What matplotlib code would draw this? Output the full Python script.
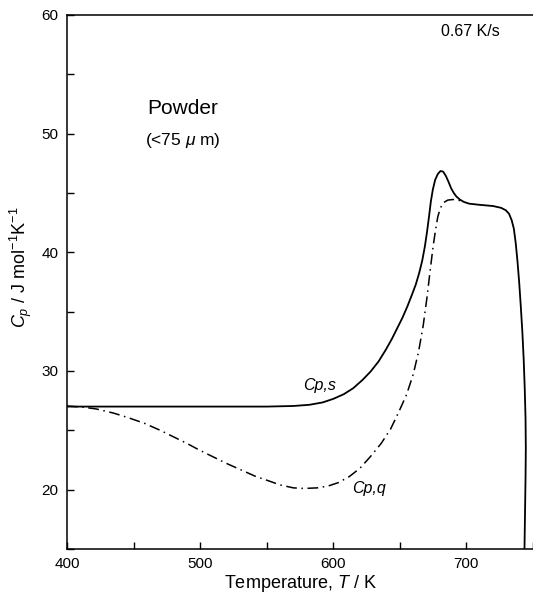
import matplotlib
matplotlib.use("Agg")
import matplotlib.pyplot as plt
from matplotlib.ticker import MultipleLocator

plt.rcParams['font.family'] = ['Liberation Sans', 'DejaVu Sans']
plt.rcParams['mathtext.fontset'] = 'custom'
plt.rcParams['mathtext.rm'] = 'Liberation Sans'
plt.rcParams['mathtext.it'] = 'Liberation Sans:italic'

# Cp,s (solid)
temp_s = [400, 450, 500, 550, 570, 582, 592, 600, 608, 615, 622, 628, 634, 639.5,
          644, 648, 652, 655.5, 659, 662, 664.5, 666.8, 668.8, 670.5, 672, 673.3, 674.8,
          676.5, 678.5, 680.5, 682.5, 684.5, 686.5, 688.5, 690.5, 692.5, 695, 698,
          702, 710, 720, 726, 729.5, 732, 734, 735.6, 737, 738.3, 739.6, 740.8, 742,
          743, 743.8, 744.4, 744.6, 744.4, 744, 743.6, 743.4]
cp_s = [27.0, 27.0, 27.0, 27.0, 27.05, 27.15, 27.35, 27.65, 28.05, 28.55, 29.25, 29.95, 30.8, 31.8,
        32.7, 33.6, 34.5, 35.4, 36.4, 37.3, 38.25, 39.3, 40.5, 41.8, 43.1, 44.3, 45.3,
        46.1, 46.6, 46.85, 46.8, 46.45, 45.95, 45.4, 45.0, 44.7, 44.45, 44.25,
        44.1, 44.0, 43.9, 43.75, 43.55, 43.25, 42.7, 42.0, 40.8, 39.3, 37.5, 35.5, 33.3,
        31.0, 28.5, 26.0, 23.5, 21.0, 18.0, 15.0, 14.0]

# Cp,q (dash-dot)
temp_q = [400, 412, 422, 435, 445, 458, 470, 480, 490, 500, 510, 520, 532, 542, 550,
          560, 570, 578, 588, 596, 604, 612, 620, 628, 636, 643, 649, 655, 660, 664,
          667.5, 670.5, 673, 675, 676.8, 678.5, 680.5, 683, 686, 690, 694, 698]
cp_q = [27.05, 26.95, 26.8, 26.45, 26.1, 25.6, 25.0, 24.45, 23.9, 23.3, 22.75, 22.2, 21.6, 21.1, 20.8,
        20.4, 20.15, 20.1, 20.15, 20.3, 20.6, 21.1, 21.8, 22.8, 23.9, 25.1, 26.5, 28.0, 29.7, 31.6,
        33.8, 36.3, 38.7, 40.5, 41.9, 43.0, 43.75, 44.2, 44.4, 44.45, 44.4, 44.2]

fig = plt.figure(figsize=(5.33, 5.99), dpi=100)
ax = fig.add_axes([0.1257, 0.0835, 0.8743, 0.8915])

ax.plot(temp_s, cp_s, color='black', lw=1.3, solid_capstyle='butt')
ax.plot(temp_q, cp_q, color='black', lw=1.1, linestyle=(0, (7, 3, 1, 3)))

ax.set_xlim(400, 750)
ax.set_ylim(15, 60)
ax.xaxis.set_major_locator(MultipleLocator(100))
ax.xaxis.set_minor_locator(MultipleLocator(50))
ax.yaxis.set_major_locator(MultipleLocator(10))
ax.yaxis.set_minor_locator(MultipleLocator(5))
ax.tick_params(which='both', direction='in', length=5, width=1, labelsize=11, pad=6)
ax.tick_params(which='both', top=False, right=False)
ax.spines['right'].set_visible(False)
for s in ['left', 'bottom', 'top']:
    ax.spines[s].set_linewidth(1.1)

ax.set_xlabel('Temperature, $\\mathit{T}$ / K', fontsize=13, labelpad=1)
ax.set_ylabel('$\\mathit{C_p}$ / J mol$^{-1}$K$^{-1}$', fontsize=13)
ax.yaxis.set_label_coords(-0.07, 0.527)

ax.text(703, 58.6, '0.67 K/s', fontsize=11.5, ha='center', va='center')
ax.text(487, 52.1, 'Powder', fontsize=15, ha='center', va='center')
ax.text(487, 49.4, '(<75 $\\mu$ m)', fontsize=12.5, ha='center', va='center')
ax.text(589.5, 28.8, 'Cp,s', fontsize=11.5, style='italic', ha='center', va='center')
ax.text(627, 20.1, 'Cp,q', fontsize=11.5, style='italic', ha='center', va='center')

fig.savefig('out.png', dpi=100, facecolor='white')
